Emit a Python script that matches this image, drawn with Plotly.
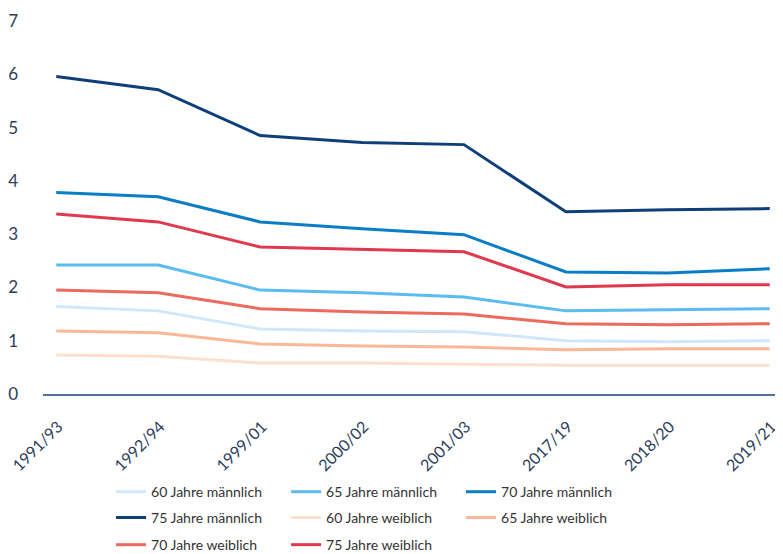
import plotly.graph_objects as go

# Perioden (Sterbetafeln)
periods = ["1991/93", "1992/94", "1999/01", "2000/02", "2001/03", "2017/19", "2018/20", "2019/21"]

m60 = [1.64, 1.56, 1.22, 1.18, 1.17, 1.00, 0.98, 1.00]
m65 = [2.42, 2.42, 1.95, 1.90, 1.82, 1.56, 1.58, 1.60]
m70 = [3.78, 3.70, 3.23, 3.10, 2.99, 2.29, 2.27, 2.35]
m75 = [5.96, 5.71, 4.85, 4.72, 4.68, 3.42, 3.46, 3.48]
w60 = [0.73, 0.71, 0.58, 0.58, 0.56, 0.54, 0.54, 0.54]
w65 = [1.18, 1.15, 0.94, 0.90, 0.88, 0.83, 0.85, 0.85]
w70 = [1.95, 1.90, 1.60, 1.54, 1.50, 1.32, 1.30, 1.32]
w75 = [3.38, 3.23, 2.76, 2.71, 2.67, 2.01, 2.05, 2.05]

# name, values, colour, legend row
series = [
    ("60 Jahre männlich", m60, "#cfe8f9", "legend"),
    ("65 Jahre männlich", m65, "#5bbcef", "legend"),
    ("70 Jahre männlich", m70, "#0a7dc7", "legend"),
    ("75 Jahre männlich", m75, "#0f3f7a", "legend2"),
    ("60 Jahre weiblich", w60, "#fde0cc", "legend2"),
    ("65 Jahre weiblich", w65, "#f9b898", "legend2"),
    ("70 Jahre weiblich", w70, "#ec6a5e", "legend3"),
    ("75 Jahre weiblich", w75, "#e0384f", "legend3"),
]

text_color = "#2b3d5c"
font_family = "Lato"

fig = go.Figure()
for name, vals, color, leg in series:
    fig.add_trace(go.Scatter(
        x=periods, y=vals, name=name, mode="lines",
        line=dict(color=color, width=3), legend=leg,
    ))

# one horizontal legend per row, so the row spacing can be set
leg_style = dict(
    orientation="h", x=0.092, xanchor="left", yanchor="middle",
    entrywidth=130, font=dict(size=14, color="#333333"), itemwidth=30,
)

# page body adds an 8px offset, so the figure is 8px smaller than the window
fig.update_layout(
    width=775, height=546,
    margin=dict(l=35, r=0, t=13, b=160, autoexpand=False),
    paper_bgcolor="white", plot_bgcolor="white",
    font=dict(family=font_family, size=15, color=text_color),
    xaxis=dict(
        type="category", range=[-0.13, 7.13], automargin=False,
        showgrid=False, showline=True, linecolor="#4f73a0", linewidth=2,
        tickangle=-45, ticks="", ticklabelshift=2, ticklabelstandoff=15,
        tickfont=dict(size=16, color=text_color),
    ),
    yaxis=dict(
        range=[0, 7], dtick=1, showgrid=False, zeroline=False, showline=False,
        automargin=False, ticks="", ticklabelstandoff=24,
        tickfont=dict(size=17, color=text_color),
    ),
    legend=dict(leg_style, y=-0.263),
    legend2=dict(leg_style, y=-0.332),
    legend3=dict(leg_style, y=-0.405),
    showlegend=True,
)

fig.write_html("out.html")
